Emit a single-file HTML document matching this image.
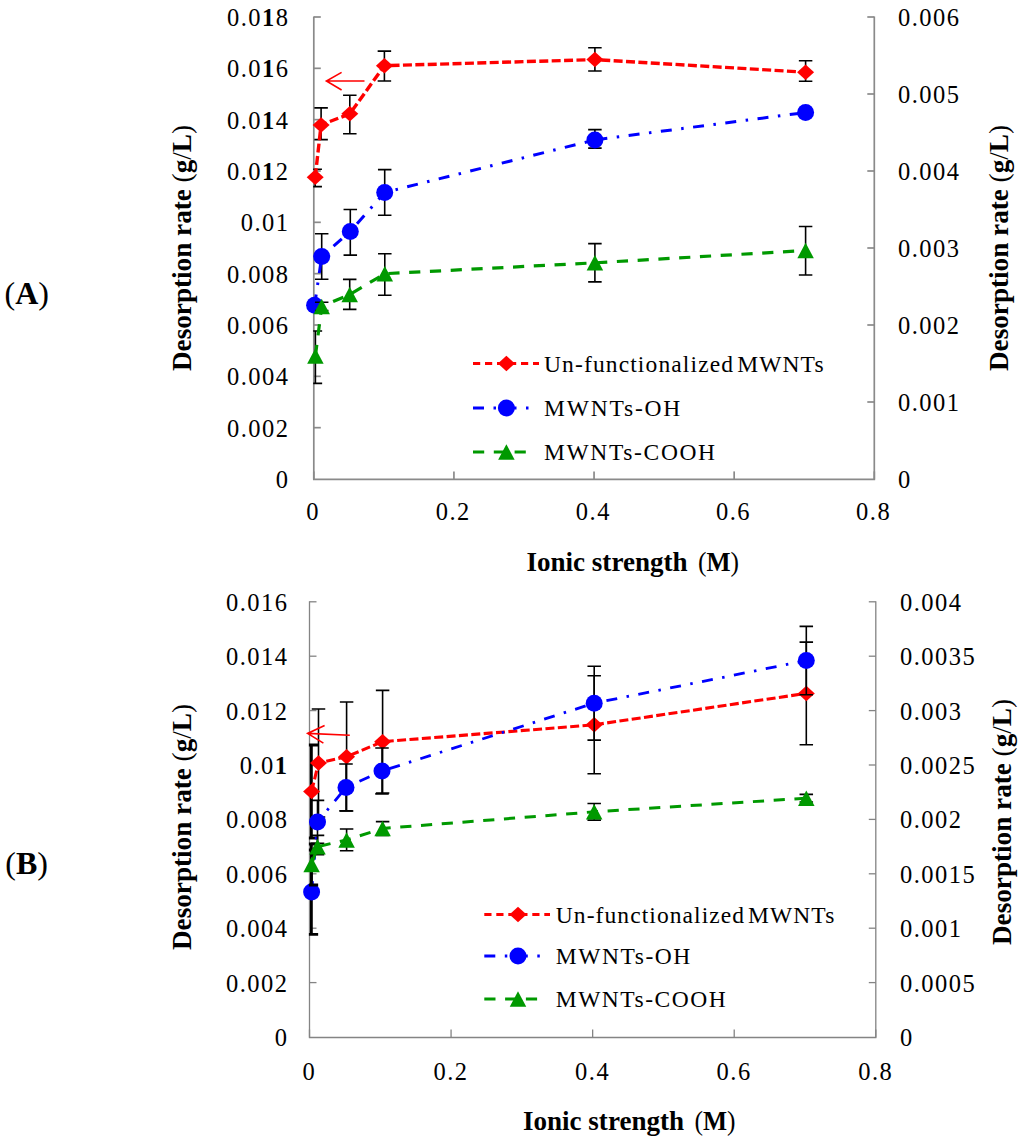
<!DOCTYPE html><html><head><meta charset="utf-8"><style>html,body{margin:0;padding:0;background:#fff;width:1024px;height:1140px;overflow:hidden}svg{display:block}</style></head><body>
<svg width="1024" height="1140" viewBox="0 0 1024 1140">
<rect width="1024" height="1140" fill="#fff"/>
<defs><clipPath id="clipA"><rect x="313.2" y="-13" width="562.1" height="492"/></clipPath></defs>
<g stroke="#8a8a8a" stroke-width="1.7" fill="none">
<path d="M313.8 16.5V479.4H874.3V16.5"/>
<path d="M313.8 427.67h7"/>
<path d="M313.8 376.33h7"/>
<path d="M313.8 325h7"/>
<path d="M313.8 273.67h7"/>
<path d="M313.8 222.33h7"/>
<path d="M313.8 171h7"/>
<path d="M313.8 119.67h7"/>
<path d="M313.8 68.33h7"/>
<path d="M313.8 17h7"/>
<path d="M874.3 402h-7"/>
<path d="M874.3 325h-7"/>
<path d="M874.3 248h-7"/>
<path d="M874.3 171h-7"/>
<path d="M874.3 94h-7"/>
<path d="M874.3 17h-7"/>
<path d="M313.8 479.4v-8"/>
<path d="M453.93 479.4v-8"/>
<path d="M594.05 479.4v-8"/>
<path d="M734.17 479.4v-8"/>
<path d="M874.3 479.4v-8"/>
</g>
<g font-family="Liberation Serif, serif" font-size="24.5" letter-spacing="1.5" fill="#000">
<text transform="translate(289.5 488) scale(1 1.07)" text-anchor="end">0</text>
<text transform="translate(289.5 436.67) scale(1 1.07)" text-anchor="end">0.002</text>
<text transform="translate(289.5 385.33) scale(1 1.07)" text-anchor="end">0.004</text>
<text transform="translate(289.5 334) scale(1 1.07)" text-anchor="end">0.006</text>
<text transform="translate(289.5 282.67) scale(1 1.07)" text-anchor="end">0.008</text>
<text transform="translate(289.5 231.33) scale(1 1.07)" text-anchor="end">0.01</text>
<text transform="translate(289.5 180) scale(1 1.07)" text-anchor="end">0.0<tspan font-weight="bold">1</tspan>2</text>
<text transform="translate(289.5 128.67) scale(1 1.07)" text-anchor="end">0.0<tspan font-weight="bold">1</tspan>4</text>
<text transform="translate(289.5 77.33) scale(1 1.07)" text-anchor="end">0.0<tspan font-weight="bold">1</tspan>6</text>
<text transform="translate(289.5 26) scale(1 1.07)" text-anchor="end">0.0<tspan font-weight="bold">1</tspan>8</text>
<text transform="translate(898 488) scale(1 1.07)">0</text>
<text transform="translate(898 411) scale(1 1.07)">0.001</text>
<text transform="translate(898 334) scale(1 1.07)">0.002</text>
<text transform="translate(898 257) scale(1 1.07)">0.003</text>
<text transform="translate(898 180) scale(1 1.07)">0.004</text>
<text transform="translate(898 103) scale(1 1.07)">0.005</text>
<text transform="translate(898 26) scale(1 1.07)">0.006</text>
<text transform="translate(313.15 519.5) scale(1 1.07)" text-anchor="middle">0</text>
<text transform="translate(453.27 519.5) scale(1 1.07)" text-anchor="middle">0.2</text>
<text transform="translate(593.4 519.5) scale(1 1.07)" text-anchor="middle">0.4</text>
<text transform="translate(733.52 519.5) scale(1 1.07)" text-anchor="middle">0.6</text>
<text transform="translate(873.65 519.5) scale(1 1.07)" text-anchor="middle">0.8</text>
</g>
<text font-family="Liberation Serif, serif" font-size="26.5" font-weight="bold" x="526.5" y="570.5" textLength="161" lengthAdjust="spacingAndGlyphs">Ionic strength</text>
<text font-family="Liberation Serif, serif" font-size="26.5" x="698" y="570.5" textLength="41" lengthAdjust="spacingAndGlyphs">(<tspan font-weight="bold">M</tspan>)</text>
<text font-family="Liberation Serif, serif" font-size="26.5" font-weight="bold" transform="translate(182 248) rotate(-90)" text-anchor="middle" y="8.8" textLength="246" lengthAdjust="spacingAndGlyphs">Desorption rate <tspan font-weight="normal">(</tspan>g<tspan font-weight="normal">/</tspan>L<tspan font-weight="normal">)</tspan></text>
<text font-family="Liberation Serif, serif" font-size="26.5" font-weight="bold" transform="translate(999 248) rotate(-90)" text-anchor="middle" y="8.8" textLength="246" lengthAdjust="spacingAndGlyphs">Desorption rate <tspan font-weight="normal">(</tspan>g<tspan font-weight="normal">/</tspan>L<tspan font-weight="normal">)</tspan></text>
<text font-family="Liberation Serif, serif" font-size="32" x="4.5" y="304">(<tspan font-weight="bold">A</tspan>)</text>
<g clip-path="url(#clipA)">
<path d="M315.2 169.3V186.6M308.45 169.3h13.5M308.45 186.6h13.5" stroke="#000" stroke-width="1.6" fill="none"/>
<path d="M321.1 107.9V139.6M314.35 107.9h13.5M314.35 139.6h13.5" stroke="#000" stroke-width="1.6" fill="none"/>
<path d="M349.8 95.3V133.7M343.05 95.3h13.5M343.05 133.7h13.5" stroke="#000" stroke-width="1.6" fill="none"/>
<path d="M384.4 51.1V81M377.65 51.1h13.5M377.65 81h13.5" stroke="#000" stroke-width="1.6" fill="none"/>
<path d="M594.9 47.8V71M588.15 47.8h13.5M588.15 71h13.5" stroke="#000" stroke-width="1.6" fill="none"/>
<path d="M805.6 60.8V81.3M798.85 60.8h13.5M798.85 81.3h13.5" stroke="#000" stroke-width="1.6" fill="none"/>
</g>
<polyline points="315.2,177.2 321.1,124.9 349.8,113.8 384.4,65.7 594.9,59.6 805.6,72.2" fill="none" stroke="#ff0000" stroke-width="3.4" stroke-dasharray="9,3.4" stroke-linejoin="round"/>
<polygon points="315.2,169.45 323.7,177.2 315.2,184.95 306.7,177.2" fill="#ff0000"/>
<polygon points="321.1,117.15 329.6,124.9 321.1,132.65 312.6,124.9" fill="#ff0000"/>
<polygon points="349.8,106.05 358.3,113.8 349.8,121.55 341.3,113.8" fill="#ff0000"/>
<polygon points="384.4,57.95 392.9,65.7 384.4,73.45 375.9,65.7" fill="#ff0000"/>
<polygon points="594.9,51.85 603.4,59.6 594.9,67.35 586.4,59.6" fill="#ff0000"/>
<polygon points="805.6,64.45 814.1,72.2 805.6,79.95 797.1,72.2" fill="#ff0000"/>
<g clip-path="url(#clipA)">
<path d="M314.6 303V307M307.85 303h13.5M307.85 307h13.5" stroke="#000" stroke-width="1.6" fill="none"/>
<path d="M321.7 233.8V279.3M314.95 233.8h13.5M314.95 279.3h13.5" stroke="#000" stroke-width="1.6" fill="none"/>
<path d="M350.3 209.5V255.1M343.55 209.5h13.5M343.55 255.1h13.5" stroke="#000" stroke-width="1.6" fill="none"/>
<path d="M384.7 169.6V215.3M377.95 169.6h13.5M377.95 215.3h13.5" stroke="#000" stroke-width="1.6" fill="none"/>
<path d="M594.9 129.6V148.1M588.15 129.6h13.5M588.15 148.1h13.5" stroke="#000" stroke-width="1.6" fill="none"/>
<path d="M805.6 111V114M798.85 111h13.5M798.85 114h13.5" stroke="#000" stroke-width="1.6" fill="none"/>
</g>
<polyline points="314.6,305.3 321.7,256.6 350.3,231.4 384.7,192.4 594.9,139.9 805.6,112.5" fill="none" stroke="#0000ff" stroke-width="3" stroke-dasharray="11,9.5,2.5,9.5" stroke-linejoin="round"/>
<circle cx="314.6" cy="305.3" r="8.5" fill="#0000ff"/>
<circle cx="321.7" cy="256.6" r="8.5" fill="#0000ff"/>
<circle cx="350.3" cy="231.4" r="8.5" fill="#0000ff"/>
<circle cx="384.7" cy="192.4" r="8.5" fill="#0000ff"/>
<circle cx="594.9" cy="139.9" r="8.5" fill="#0000ff"/>
<circle cx="805.6" cy="112.5" r="8.5" fill="#0000ff"/>
<g clip-path="url(#clipA)">
<path d="M315.4 331V383.4M308.65 331h13.5M308.65 383.4h13.5" stroke="#000" stroke-width="1.6" fill="none"/>
<path d="M321.7 302.2V310.6M314.95 302.2h13.5M314.95 310.6h13.5" stroke="#000" stroke-width="1.6" fill="none"/>
<path d="M349.7 279.4V309.4M342.95 279.4h13.5M342.95 309.4h13.5" stroke="#000" stroke-width="1.6" fill="none"/>
<path d="M384.8 253.8V295.2M378.05 253.8h13.5M378.05 295.2h13.5" stroke="#000" stroke-width="1.6" fill="none"/>
<path d="M594.9 243.6V281.9M588.15 243.6h13.5M588.15 281.9h13.5" stroke="#000" stroke-width="1.6" fill="none"/>
<path d="M805.6 226.5V275M798.85 226.5h13.5M798.85 275h13.5" stroke="#000" stroke-width="1.6" fill="none"/>
</g>
<polyline points="315.4,356 321.7,306.4 349.7,294.5 384.8,273.7 594.9,262.8 805.6,250.5" fill="none" stroke="#009900" stroke-width="3.2" stroke-dasharray="11.2,9.6" stroke-linejoin="round"/>
<polygon points="315.4,348.25 323.65,363.75 307.15,363.75" fill="#009900"/>
<polygon points="321.7,298.65 329.95,314.15 313.45,314.15" fill="#009900"/>
<polygon points="349.7,286.75 357.95,302.25 341.45,302.25" fill="#009900"/>
<polygon points="384.8,265.95 393.05,281.45 376.55,281.45" fill="#009900"/>
<polygon points="594.9,255.05 603.15,270.55 586.65,270.55" fill="#009900"/>
<polygon points="805.6,242.75 813.85,258.25 797.35,258.25" fill="#009900"/>
<path d="M364.5 81L326.4 81M341.6 72.4L326.4 81L341.6 90" stroke="#ff0000" stroke-width="1.6" fill="none"/>
<path d="M473 363.5H539" stroke="#ff0000" stroke-width="3" stroke-dasharray="7.2,4.8" fill="none"/>
<polygon points="506.4,355.75 514.9,363.5 506.4,371.25 497.9,363.5" fill="#ff0000"/>
<text font-family="Liberation Serif, serif" font-size="23.5" letter-spacing="1.13" word-spacing="-4" x="544" y="371.5">Un-functionalized MWNTs</text>
<path d="M473 408H531" stroke="#0000ff" stroke-width="3" stroke-dasharray="11,9.5,2.5,9.5" fill="none"/>
<circle cx="506.4" cy="408" r="8.5" fill="#0000ff"/>
<text font-family="Liberation Serif, serif" font-size="23.5" letter-spacing="1.8" word-spacing="-4" x="544" y="416">MWNTs-OH</text>
<path d="M473 452H528" stroke="#009900" stroke-width="3" stroke-dasharray="11.2,9.6" fill="none"/>
<polygon points="506.4,444.25 514.65,459.75 498.15,459.75" fill="#009900"/>
<text font-family="Liberation Serif, serif" font-size="23.5" letter-spacing="1.64" word-spacing="-4" x="544" y="460">MWNTs-COOH</text>
<defs><clipPath id="clipB"><rect x="308.9" y="571.8" width="567.9" height="465.2"/></clipPath></defs>
<g stroke="#848484" stroke-width="1.3" fill="none">
<path d="M309.5 601.3V1037.5H875.8V601.3"/>
<path d="M309.5 982.6h7"/>
<path d="M309.5 928.2h7"/>
<path d="M309.5 873.8h7"/>
<path d="M309.5 819.4h7"/>
<path d="M309.5 765h7"/>
<path d="M309.5 710.6h7"/>
<path d="M309.5 656.2h7"/>
<path d="M309.5 601.8h7"/>
<path d="M875.8 982.6h-7"/>
<path d="M875.8 928.2h-7"/>
<path d="M875.8 873.8h-7"/>
<path d="M875.8 819.4h-7"/>
<path d="M875.8 765h-7"/>
<path d="M875.8 710.6h-7"/>
<path d="M875.8 656.2h-7"/>
<path d="M875.8 601.8h-7"/>
<path d="M309.5 1037.5v-8"/>
<path d="M451.07 1037.5v-8"/>
<path d="M592.65 1037.5v-8"/>
<path d="M734.22 1037.5v-8"/>
<path d="M875.8 1037.5v-8"/>
</g>
<g font-family="Liberation Serif, serif" font-size="24.5" letter-spacing="1.5" fill="#000">
<text transform="translate(288.5 1046) scale(1 1.07)" text-anchor="end">0</text>
<text transform="translate(288.5 991.6) scale(1 1.07)" text-anchor="end">0.002</text>
<text transform="translate(288.5 937.2) scale(1 1.07)" text-anchor="end">0.004</text>
<text transform="translate(288.5 882.8) scale(1 1.07)" text-anchor="end">0.006</text>
<text transform="translate(288.5 828.4) scale(1 1.07)" text-anchor="end">0.008</text>
<text transform="translate(288.5 774) scale(1 1.07)" text-anchor="end">0.0<tspan font-weight="bold">1</tspan></text>
<text transform="translate(288.5 719.6) scale(1 1.07)" text-anchor="end">0.012</text>
<text transform="translate(288.5 665.2) scale(1 1.07)" text-anchor="end">0.014</text>
<text transform="translate(288.5 610.8) scale(1 1.07)" text-anchor="end">0.016</text>
<text transform="translate(900 1046) scale(1 1.07)">0</text>
<text transform="translate(900 991.6) scale(1 1.07)">0.0005</text>
<text transform="translate(900 937.2) scale(1 1.07)">0.001</text>
<text transform="translate(900 882.8) scale(1 1.07)">0.0015</text>
<text transform="translate(900 828.4) scale(1 1.07)">0.002</text>
<text transform="translate(900 774) scale(1 1.07)">0.0025</text>
<text transform="translate(900 719.6) scale(1 1.07)">0.003</text>
<text transform="translate(900 665.2) scale(1 1.07)">0.0035</text>
<text transform="translate(900 610.8) scale(1 1.07)">0.004</text>
<text transform="translate(309.45 1079.5) scale(1 1.07)" text-anchor="middle">0</text>
<text transform="translate(451.02 1079.5) scale(1 1.07)" text-anchor="middle">0.2</text>
<text transform="translate(592.6 1079.5) scale(1 1.07)" text-anchor="middle">0.4</text>
<text transform="translate(734.17 1079.5) scale(1 1.07)" text-anchor="middle">0.6</text>
<text transform="translate(875.75 1079.5) scale(1 1.07)" text-anchor="middle">0.8</text>
</g>
<text font-family="Liberation Serif, serif" font-size="26.5" font-weight="bold" x="523" y="1130" textLength="161" lengthAdjust="spacingAndGlyphs">Ionic strength</text>
<text font-family="Liberation Serif, serif" font-size="26.5" x="694.5" y="1130" textLength="41" lengthAdjust="spacingAndGlyphs">(<tspan font-weight="bold">M</tspan>)</text>
<text font-family="Liberation Serif, serif" font-size="26.5" font-weight="bold" transform="translate(182.5 827) rotate(-90)" text-anchor="middle" y="8.8" textLength="246" lengthAdjust="spacingAndGlyphs">Desorption rate <tspan font-weight="normal">(</tspan>g<tspan font-weight="normal">/</tspan>L<tspan font-weight="normal">)</tspan></text>
<text font-family="Liberation Serif, serif" font-size="26.5" font-weight="bold" transform="translate(1002 822) rotate(-90)" text-anchor="middle" y="8.8" textLength="246" lengthAdjust="spacingAndGlyphs">Desorption rate <tspan font-weight="normal">(</tspan>g<tspan font-weight="normal">/</tspan>L<tspan font-weight="normal">)</tspan></text>
<text font-family="Liberation Serif, serif" font-size="32" x="5.3" y="874">(<tspan font-weight="bold">B</tspan>)</text>
<g clip-path="url(#clipB)">
<path d="M311.4 745V838M304.65 745h13.5M304.65 838h13.5" stroke="#000" stroke-width="2.8" fill="none"/>
<path d="M318.5 709V817M311.75 709h13.5M311.75 817h13.5" stroke="#000" stroke-width="1.6" fill="none"/>
<path d="M346.6 702V811M339.85 702h13.5M339.85 811h13.5" stroke="#000" stroke-width="1.6" fill="none"/>
<path d="M382.6 690.4V793M375.85 690.4h13.5M375.85 793h13.5" stroke="#000" stroke-width="1.6" fill="none"/>
<path d="M594.2 675.8V773.8M587.45 675.8h13.5M587.45 773.8h13.5" stroke="#000" stroke-width="1.6" fill="none"/>
<path d="M806.3 642.1V744.7M799.55 642.1h13.5M799.55 744.7h13.5" stroke="#000" stroke-width="1.6" fill="none"/>
</g>
<polyline points="311.6,791.4 318.5,763 346.6,756.7 382.6,741.7 594.2,724.8 806.3,693.4" fill="none" stroke="#ff0000" stroke-width="3.1" stroke-dasharray="9,3.4" stroke-linejoin="round"/>
<polygon points="311.6,783.65 320.1,791.4 311.6,799.15 303.1,791.4" fill="#ff0000"/>
<polygon points="318.5,755.25 327,763 318.5,770.75 310,763" fill="#ff0000"/>
<polygon points="346.6,748.95 355.1,756.7 346.6,764.45 338.1,756.7" fill="#ff0000"/>
<polygon points="382.6,733.95 391.1,741.7 382.6,749.45 374.1,741.7" fill="#ff0000"/>
<polygon points="594.2,717.05 602.7,724.8 594.2,732.55 585.7,724.8" fill="#ff0000"/>
<polygon points="806.3,685.65 814.8,693.4 806.3,701.15 797.8,693.4" fill="#ff0000"/>
<g clip-path="url(#clipB)">
<path d="M311.4 850V934.3M304.65 850h13.5M304.65 934.3h13.5" stroke="#000" stroke-width="2.8" fill="none"/>
<path d="M317.5 800.4V843.4M310.75 800.4h13.5M310.75 843.4h13.5" stroke="#000" stroke-width="1.6" fill="none"/>
<path d="M346 764V810.9M339.25 764h13.5M339.25 810.9h13.5" stroke="#000" stroke-width="1.6" fill="none"/>
<path d="M382 748V793.9M375.25 748h13.5M375.25 793.9h13.5" stroke="#000" stroke-width="1.6" fill="none"/>
<path d="M594.2 666.3V740.1M587.45 666.3h13.5M587.45 740.1h13.5" stroke="#000" stroke-width="1.6" fill="none"/>
<path d="M806.3 626.4V694.8M799.55 626.4h13.5M799.55 694.8h13.5" stroke="#000" stroke-width="1.6" fill="none"/>
</g>
<polyline points="311.6,892.1 317.5,821.9 346,787.4 382,771 594.2,703.2 806.3,660.6" fill="none" stroke="#0000ff" stroke-width="2.8" stroke-dasharray="11,9.5,2.5,9.5" stroke-linejoin="round"/>
<circle cx="311.6" cy="892.1" r="8.5" fill="#0000ff"/>
<circle cx="317.5" cy="821.9" r="8.5" fill="#0000ff"/>
<circle cx="346" cy="787.4" r="8.5" fill="#0000ff"/>
<circle cx="382" cy="771" r="8.5" fill="#0000ff"/>
<circle cx="594.2" cy="703.2" r="8.5" fill="#0000ff"/>
<circle cx="806.3" cy="660.6" r="8.5" fill="#0000ff"/>
<g clip-path="url(#clipB)">
<path d="M311.4 844V885M304.65 844h13.5M304.65 885h13.5" stroke="#000" stroke-width="2.8" fill="none"/>
<path d="M317.5 835.4V854.6M310.75 835.4h13.5M310.75 854.6h13.5" stroke="#000" stroke-width="1.6" fill="none"/>
<path d="M346.6 829V850.8M339.85 829h13.5M339.85 850.8h13.5" stroke="#000" stroke-width="1.6" fill="none"/>
<path d="M382.6 821.6V835.4M375.85 821.6h13.5M375.85 835.4h13.5" stroke="#000" stroke-width="1.6" fill="none"/>
<path d="M594.2 803.5V820.1M587.45 803.5h13.5M587.45 820.1h13.5" stroke="#000" stroke-width="1.6" fill="none"/>
<path d="M806.3 794.4V802M799.55 794.4h13.5M799.55 802h13.5" stroke="#000" stroke-width="1.6" fill="none"/>
</g>
<polyline points="311.6,864.4 317.5,846.7 346.6,839.9 382.6,828.5 594.2,811.8 806.3,798.2" fill="none" stroke="#009900" stroke-width="3" stroke-dasharray="11.2,9.6" stroke-linejoin="round"/>
<polygon points="311.6,856.65 319.85,872.15 303.35,872.15" fill="#009900"/>
<polygon points="317.5,838.95 325.75,854.45 309.25,854.45" fill="#009900"/>
<polygon points="346.6,832.15 354.85,847.65 338.35,847.65" fill="#009900"/>
<polygon points="382.6,820.75 390.85,836.25 374.35,836.25" fill="#009900"/>
<polygon points="594.2,804.05 602.45,819.55 585.95,819.55" fill="#009900"/>
<polygon points="806.3,790.45 814.55,805.95 798.05,805.95" fill="#009900"/>
<path d="M349.8 735.2L307.6 733.4M324.6 725.5L307.6 733.4L323.4 743.1" stroke="#ff0000" stroke-width="1.6" fill="none"/>
<path d="M484.3 914.5H550" stroke="#ff0000" stroke-width="3" stroke-dasharray="7.2,4.8" fill="none"/>
<polygon points="518,906.75 526.5,914.5 518,922.25 509.5,914.5" fill="#ff0000"/>
<text font-family="Liberation Serif, serif" font-size="23.5" letter-spacing="1.08" word-spacing="-4" x="555.8" y="922.5">Un-functionalized MWNTs</text>
<path d="M484.3 956H541.5" stroke="#0000ff" stroke-width="3" stroke-dasharray="11,9.5,2.5,9.5" fill="none"/>
<circle cx="518" cy="956" r="8.5" fill="#0000ff"/>
<text font-family="Liberation Serif, serif" font-size="23.5" letter-spacing="1.54" word-spacing="-4" x="555.8" y="964">MWNTs-OH</text>
<path d="M484.3 999H538.5" stroke="#009900" stroke-width="3" stroke-dasharray="11.2,9.6" fill="none"/>
<polygon points="518,991.25 526.25,1006.75 509.75,1006.75" fill="#009900"/>
<text font-family="Liberation Serif, serif" font-size="23.5" letter-spacing="1.5" word-spacing="-4" x="555.8" y="1007">MWNTs-COOH</text>
</svg></body></html>
